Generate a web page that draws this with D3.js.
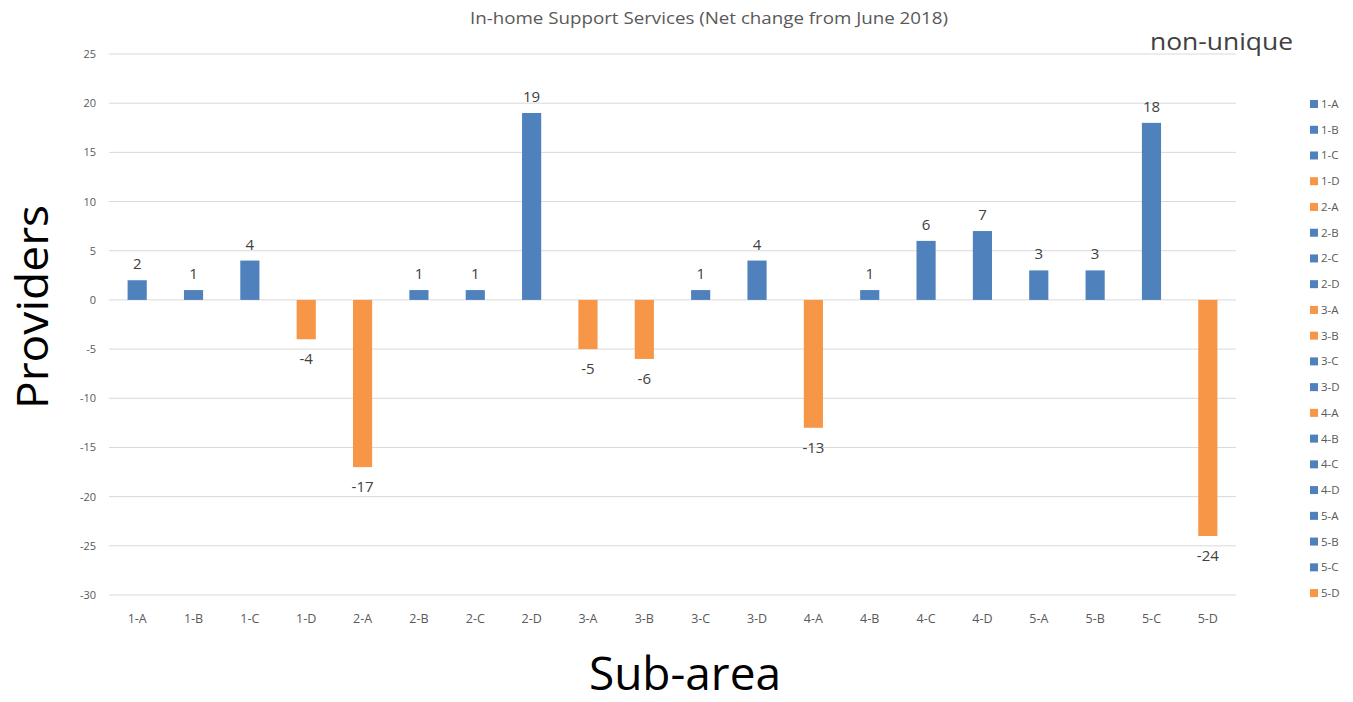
<!DOCTYPE html>
<html><head><meta charset="utf-8">
<script src="https://cdn.jsdelivr.net/npm/d3@7"></script>
<style>body{margin:0;background:#fff}svg{display:block}text{font-family:"Open Sans",sans-serif}</style>
</head><body><svg id="c" width="1353" height="702"></svg>
<script>
const categories = ["1-A","1-B","1-C","1-D","2-A","2-B","2-C","2-D","3-A","3-B","3-C","3-D","4-A","4-B","4-C","4-D","5-A","5-B","5-C","5-D"];
const values = [2,1,4,-4,-17,1,1,19,-5,-6,1,4,-13,1,6,7,3,3,18,-24];
const yTicks = [25,20,15,10,5,0,-5,-10,-15,-20,-25,-30];
const colorPos = "#4f81bd", colorNeg = "#f79646";

const svg = d3.select("#c");
const x = d3.scaleBand().domain(categories).range([109,1236]).paddingInner(0.66).paddingOuter(0.33);
const y = d3.scaleLinear().domain([-30,25]).range([595,54]);

svg.append("g").selectAll("line").data(yTicks).join("line")
  .attr("x1",109).attr("x2",1236).attr("y1",d=>y(d)).attr("y2",d=>y(d))
  .attr("stroke","#d9d9d9").attr("stroke-width",1);

const yAxis = svg.append("g").attr("transform","translate(96,0)")
  .call(d3.axisLeft(y).tickValues(yTicks).tickSize(0).tickPadding(0).tickFormat(d=>String(d)));
yAxis.select(".domain").remove();
yAxis.selectAll("text").attr("fill","#595959").style("font-size","11px").style("font-family","'Open Sans',sans-serif");

const xAxis = svg.append("g").attr("transform","translate(0,614)")
  .call(d3.axisBottom(x).tickSize(0).tickPadding(0));
xAxis.select(".domain").remove();
xAxis.selectAll("text").attr("fill","#595959").style("font-size","12.5px").style("font-family","'Open Sans',sans-serif");

svg.append("g").selectAll("rect").data(values).join("rect")
  .attr("x",(d,i)=>x(categories[i])).attr("width",x.bandwidth())
  .attr("y",d=>y(Math.max(0,d))).attr("height",d=>Math.abs(y(d)-y(0)))
  .attr("fill",d=>d>=0?colorPos:colorNeg);

svg.append("g").selectAll("text").data(values).join("text")
  .attr("x",(d,i)=>x(categories[i])+x.bandwidth()/2)
  .attr("y",d=>d>=0?y(d)-11:y(d)+25)
  .attr("text-anchor","middle").attr("fill","#404040").style("font-size","15px")
  .text(d=>String(d));

svg.append("text").attr("x",709).attr("y",24).attr("text-anchor","middle")
  .attr("fill","#595959").style("font-size","16px")
  .attr("textLength",478).attr("lengthAdjust","spacingAndGlyphs")
  .text("In-home Support Services (Net change from June 2018)");
svg.append("text").attr("x",1293).attr("y",50).attr("text-anchor","end")
  .attr("fill","#404040").style("font-size","24px")
  .attr("textLength",143).attr("lengthAdjust","spacingAndGlyphs").text("non-unique");

svg.append("text").attr("transform","translate(48,307) rotate(-90)").attr("text-anchor","middle")
  .attr("fill","#000").style("font-size","44px")
  .attr("textLength",204).attr("lengthAdjust","spacingAndGlyphs").text("Providers");
svg.append("text").attr("x",685).attr("y",690).attr("text-anchor","middle")
  .attr("fill","#000").style("font-size","46px").text("Sub-area");

const lg = svg.append("g").selectAll("g").data(categories).join("g")
  .attr("transform",(d,i)=>`translate(1310,${104+i*25.74})`);
lg.append("rect").attr("x",0).attr("y",-4).attr("width",8).attr("height",8)
  .attr("fill",(d,i)=>values[i]>=0?colorPos:colorNeg);
lg.append("text").attr("x",11).attr("y",4).attr("fill","#595959").style("font-size","11.5px").text(d=>d);
</script></body></html>
